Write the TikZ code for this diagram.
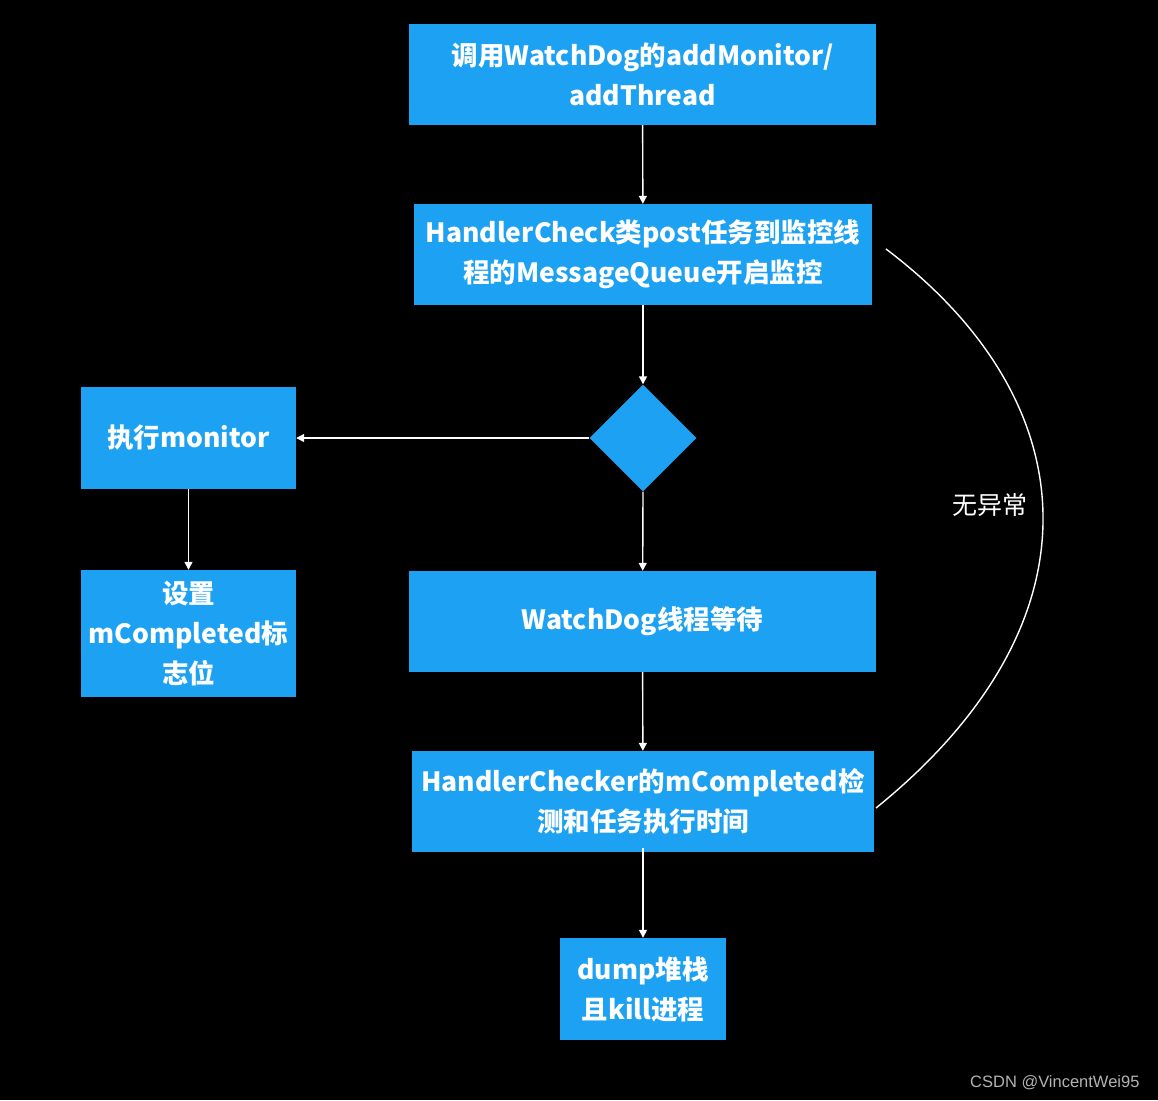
\documentclass[tikz,border=0pt]{standalone}
\usepackage{fontspec}
\setmainfont{Noto Sans CJK SC}
\newfontfamily\wmfont{Liberation Sans}
\usetikzlibrary{shapes.geometric,arrows.meta}
\definecolor{boxblue}{HTML}{1DA1F2}
\begin{document}
\begin{tikzpicture}[x=1pt,y=-1pt,
  box/.style={fill=boxblue,draw=none,text=white,font=\fontsize{26.5}{40}\selectfont\bfseries,align=center,inner sep=0pt},
  conn/.style={draw=white,line width=1.4pt,-{Triangle[width=8pt,length=8pt]}},
  lbl/.style={text=white,font=\fontsize{25}{28}\selectfont}]
\fill[black] (0,0) rectangle (1158,1100);
\useasboundingbox (0,0) rectangle (1158,1100);
\node[box,minimum width=467pt,minimum height=101pt] (a) at (642.5,74.5) {调用WatchDog的addMonitor/\\addThread};
\node[box,minimum width=458pt,minimum height=101pt] (b) at (643,254.5) {HandlerCheck类post任务到监控线\\程的MessageQueue开启监控};
\node[fill=boxblue,draw=none,diamond,aspect=1,minimum width=107pt,minimum height=107pt,inner sep=0pt] (d) at (643,438) {};
\node[box,minimum width=215pt,minimum height=102pt] (c) at (188.5,438) {执行monitor};
\node[box,minimum width=215pt,minimum height=127pt] (s) at (188.5,633.5) {设置\\mCompleted标\\志位};
\node[box,minimum width=467pt,minimum height=101pt] (e) at (642.5,621.5) {WatchDog线程等待};
\node[box,minimum width=462pt,minimum height=101pt] (f) at (643,801.5) {HandlerChecker的mCompleted检\\测和任务执行时间};
\node[box,minimum width=166pt,minimum height=102pt] (g) at (643,989) {dump堆栈\\且kill进程};
\draw[conn] (a) -- (b);
\draw[conn] (b) -- (d.north);
\draw[conn] (d.west) -- (c);
\draw[conn] (c) -- (s);
\draw[conn] (d.south) -- (e);
\draw[conn] (e) -- (f);
\draw[conn] ([yshift=4pt]f.south) -- (g);
\coordinate (cs) at (886,249);
\coordinate (ce) at (876,808);
\draw[white,line width=1.4pt] (cs) .. controls (1086,400) and (1108,620) .. (ce);
\node[lbl] (n) at (990,505) {无异常};
\node[text=black!30,font=\wmfont\fontsize{16.5}{18}\selectfont,anchor=east] (wm) at (1143,1083) {CSDN @VincentWei95};
\end{tikzpicture}
\end{document}
